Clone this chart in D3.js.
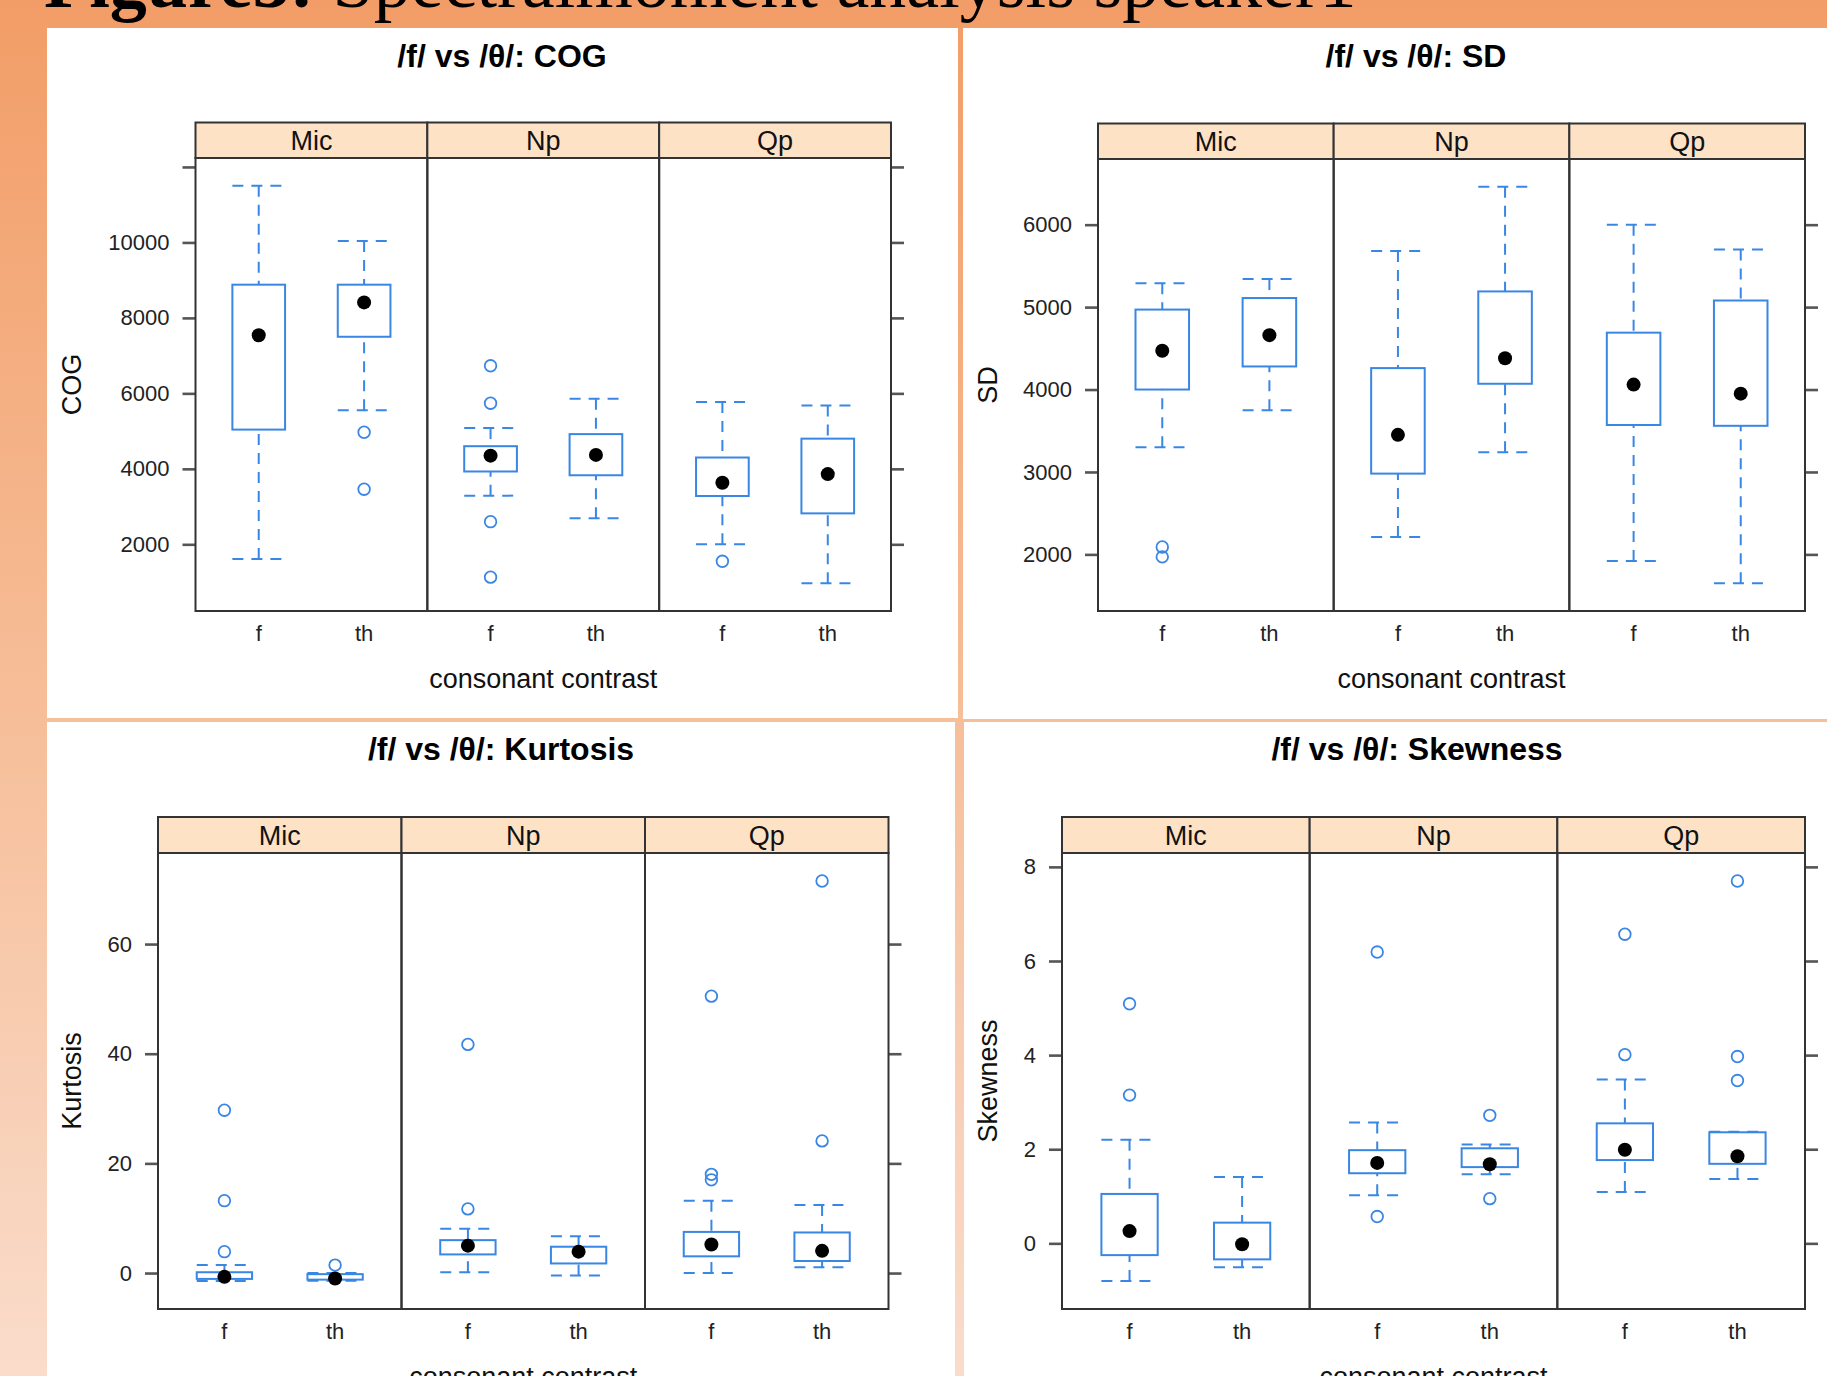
<!DOCTYPE html>
<html>
<head>
<meta charset="utf-8">
<script src="https://cdn.jsdelivr.net/npm/d3@7"></script>
<style>
  html, body { margin: 0; padding: 0; overflow: hidden; background: #fff; }
  svg { display: block; }
</style>
</head>
<body>
<svg id="slide" width="1827" height="1376"></svg>
<script>
// ---- categories ----
const devices = ["Mic", "Np", "Qp"];
const contrasts = ["f", "th"];

// ---- five-number summaries, one row per device × contrast
//      (Mic f, Mic th, Np f, Np th, Qp f, Qp th):
//      [lower whisker, Q1, median, Q3, upper whisker] ----
const cogStats = [
  [1610, 5040, 7540, 8880, 11500],
  [5550, 7500, 8410, 8880, 10040],
  [3290, 3930, 4350, 4600, 5080],
  [2690, 3830, 4370, 4920, 5860],
  [2000, 3280, 3630, 4300, 5770],
  [970, 2820, 3860, 4800, 5680]
];
const cogOutliers = [[], [4970, 3460], [6730, 5740, 2600, 1130], [], [1550], []];
const cogTicks = [2000, 4000, 6000, 8000, 10000, 12000];
const cogTickLabels = ["2000", "4000", "6000", "8000", "10000", ""];

const sdStats = [
  [3300, 4000, 4470, 4970, 5290],
  [3750, 4280, 4660, 5110, 5340],
  [2210, 2980, 3450, 4260, 5680],
  [3240, 4070, 4380, 5190, 6460],
  [1920, 3570, 4060, 4690, 6000],
  [1650, 3560, 3950, 5080, 5700]
];
const sdOutliers = [[2090, 1970], [], [], [], [], []];
const sdTicks = [2000, 3000, 4000, 5000, 6000];
const sdTickLabels = ["2000", "3000", "4000", "5000", "6000"];

const kurtStats = [
  [-1.45, -1.07, -0.69, 0.15, 1.45],
  [-1.40, -1.20, -1.00, -0.20, 0.00],
  [0.15, 3.40, 5.00, 6.00, 8.10],
  [-0.46, 1.75, 3.90, 4.80, 6.70],
  [0.00, 3.05, 5.20, 7.50, 13.20],
  [1.07, 2.20, 4.05, 7.40, 12.40]
];
const kurtOutliers = [[29.7, 13.2, 3.9], [1.45], [41.7, 11.7], [], [50.5, 18.0, 17.0], [71.5, 24.1]];
const kurtTicks = [0, 20, 40, 60];
const kurtTickLabels = ["0", "20", "40", "60"];

const skewStats = [
  [-0.80, -0.25, 0.26, 1.05, 2.20],
  [-0.51, -0.34, -0.02, 0.44, 1.41],
  [1.02, 1.49, 1.71, 1.98, 2.57],
  [1.47, 1.62, 1.68, 2.02, 2.10],
  [1.09, 1.77, 1.99, 2.55, 3.48],
  [1.37, 1.69, 1.85, 2.36, 2.37]
];
const skewOutliers = [[5.09, 3.15], [], [6.19, 0.57], [2.72, 0.95], [6.57, 4.01], [7.70, 3.97, 3.46]];
const skewTicks = [0, 2, 4, 6, 8];
const skewTickLabels = ["0", "2", "4", "6", "8"];

// ---- styling ----
const SANS = "'Liberation Sans', Arial, Helvetica, sans-serif";
const SERIF = "'Liberation Serif', 'Times New Roman', serif";
const BLUE = "#3a86e4";
const STRIP = "#fde2c6";
const FRAME = "#333333";
const TICK = "#555555";

const svg = d3.select("#slide");

// slide background: warm orange fading to peach
const defs = svg.append("defs");
const grad = defs.append("linearGradient")
  .attr("id", "slideBg").attr("x1", 0).attr("y1", 0).attr("x2", 0).attr("y2", 1);
grad.append("stop").attr("offset", "0%").attr("stop-color", "#f29d67");
grad.append("stop").attr("offset", "50%").attr("stop-color", "#f6bd97");
grad.append("stop").attr("offset", "100%").attr("stop-color", "#fadccb");
svg.append("rect").attr("width", 1827).attr("height", 1376).attr("fill", "url(#slideBg)");

// slide heading (runs off the top edge)
const heading = svg.append("text")
  .attr("x", 44).attr("y", 7)
  .attr("font-family", SERIF).attr("font-size", 72).attr("fill", "#000");
heading.append("tspan").attr("font-weight", "bold").text("Figure3:");
heading.append("tspan").text(" Spectralmoment analysis speaker1");
{
  const w = heading.node().getComputedTextLength();
  heading.attr("font-size", 72 * 1313 / w);
}

function drawChart(cfg) {
  const g = svg.append("g");
  const [cx0, cy0, cx1, cy1] = cfg.card;
  g.append("rect").attr("x", cx0).attr("y", cy0)
    .attr("width", cx1 - cx0).attr("height", cy1 - cy0).attr("fill", "#fff");

  const { left, right, stripTop, top, bottom } = cfg.panel;

  // y scale: data range widened by 7% each side
  const all = cfg.stats.flat().concat(cfg.outliers.flat());
  const lo = d3.min(all), hi = d3.max(all);
  const pad = (hi - lo) * 0.07;
  const y = d3.scaleLinear().domain([lo - pad, hi + pad]).range([bottom, top]);

  // device panels and contrast positions
  const px = d3.scaleBand().domain(devices).range([left, right]).paddingInner(0).paddingOuter(0);
  const bw = px.bandwidth();

  // title
  g.append("text")
    .attr("x", cfg.titleX).attr("y", cfg.titleY)
    .attr("text-anchor", "middle")
    .attr("font-family", SANS).attr("font-size", 32).attr("font-weight", "bold")
    .attr("fill", "#000")
    .text(cfg.title);

  // y axis label
  g.append("text")
    .attr("transform", `translate(${cfg.ylabX},${(top + bottom) / 2}) rotate(-90)`)
    .attr("text-anchor", "middle").attr("dy", "0.35em")
    .attr("font-family", SANS).attr("font-size", 27).attr("fill", "#111")
    .text(cfg.ylab);

  // x axis label
  g.append("text")
    .attr("x", (left + right) / 2).attr("y", bottom + 68).attr("dy", "0.35em")
    .attr("text-anchor", "middle")
    .attr("font-family", SANS).attr("font-size", 27).attr("fill", "#111")
    .text("consonant contrast");

  // left and right y axes (ticks outside the panel)
  const yAxisL = d3.axisLeft(y).tickValues(cfg.ticks).tickSize(13).tickPadding(13)
    .tickFormat((d, i) => cfg.tickLabels[i]);
  const yAxisR = d3.axisRight(y).tickValues(cfg.ticks).tickSize(13).tickFormat("");
  const axL = g.append("g").attr("transform", `translate(${left},0)`).call(yAxisL);
  const axR = g.append("g").attr("transform", `translate(${right},0)`).call(yAxisR);
  [axL, axR].forEach(ax => {
    ax.select(".domain").remove();
    ax.selectAll(".tick line").attr("stroke", TICK).attr("stroke-width", 2.6);
    ax.selectAll(".tick text").attr("font-family", SANS).attr("font-size", 22).attr("fill", "#222");
  });

  devices.forEach((dev, di) => {
    const x0 = px(dev);
    const xs = d3.scalePoint().domain(contrasts).range([x0, x0 + bw]).padding(0.6);
    const boxW = xs.step() * 0.5;

    // strip
    g.append("rect").attr("x", x0).attr("y", stripTop)
      .attr("width", bw).attr("height", top - stripTop)
      .attr("fill", STRIP).attr("stroke", FRAME).attr("stroke-width", 2);
    g.append("text")
      .attr("x", x0 + bw / 2).attr("y", (stripTop + top) / 2).attr("dy", "0.36em")
      .attr("text-anchor", "middle")
      .attr("font-family", SANS).attr("font-size", 27).attr("fill", "#111")
      .text(dev);

    // panel frame
    g.append("rect").attr("x", x0).attr("y", top)
      .attr("width", bw).attr("height", bottom - top)
      .attr("fill", "none").attr("stroke", FRAME).attr("stroke-width", 2);

    contrasts.forEach((c, ci) => {
      const k = di * contrasts.length + ci;
      const [wLo, q1, med, q3, wHi] = cfg.stats[k];
      const cx = xs(c);

      // x tick label
      g.append("text")
        .attr("x", cx).attr("y", bottom + 22).attr("dy", "0.36em")
        .attr("text-anchor", "middle")
        .attr("font-family", SANS).attr("font-size", 22).attr("fill", "#222")
        .text(c);

      const um = g.append("g").attr("stroke", BLUE).attr("stroke-width", 2)
        .attr("stroke-dasharray", "11,8").attr("fill", "none");
      // whiskers run from the caps toward the box
      um.append("line").attr("x1", cx).attr("x2", cx).attr("y1", y(wHi)).attr("y2", y(q3));
      um.append("line").attr("x1", cx).attr("x2", cx).attr("y1", y(wLo)).attr("y2", y(q1));
      um.append("line").attr("x1", cx - boxW / 2).attr("x2", cx + boxW / 2).attr("y1", y(wHi)).attr("y2", y(wHi));
      um.append("line").attr("x1", cx - boxW / 2).attr("x2", cx + boxW / 2).attr("y1", y(wLo)).attr("y2", y(wLo));

      // box
      g.append("rect")
        .attr("x", cx - boxW / 2).attr("y", y(q3))
        .attr("width", boxW).attr("height", Math.max(0.5, y(q1) - y(q3)))
        .attr("fill", "none").attr("stroke", BLUE).attr("stroke-width", 2);

      // outliers
      g.selectAll(null).data(cfg.outliers[k]).enter().append("circle")
        .attr("cx", cx).attr("cy", d => y(d)).attr("r", 5.8)
        .attr("fill", "none").attr("stroke", BLUE).attr("stroke-width", 1.8);

      // median dot
      g.append("circle").attr("cx", cx).attr("cy", y(med)).attr("r", 7).attr("fill", "#000");
    });
  });
}

drawChart({
  card: [47, 28, 958, 718],
  panel: { left: 195.5, right: 891, stripTop: 122.5, top: 158, bottom: 611 },
  title: "/f/ vs /θ/: COG", titleX: 502, titleY: 67,
  ylab: "COG", ylabX: 72,
  stats: cogStats, outliers: cogOutliers, ticks: cogTicks, tickLabels: cogTickLabels
});

drawChart({
  card: [963, 28, 1869, 719],
  panel: { left: 1098, right: 1805, stripTop: 123.5, top: 159, bottom: 611 },
  title: "/f/ vs /θ/: SD", titleX: 1416, titleY: 67,
  ylab: "SD", ylabX: 988,
  stats: sdStats, outliers: sdOutliers, ticks: sdTicks, tickLabels: sdTickLabels
});

drawChart({
  card: [47, 722, 955, 1420],
  panel: { left: 158, right: 888.5, stripTop: 817, top: 853, bottom: 1309 },
  title: "/f/ vs /θ/: Kurtosis", titleX: 501, titleY: 760,
  ylab: "Kurtosis", ylabX: 72,
  stats: kurtStats, outliers: kurtOutliers, ticks: kurtTicks, tickLabels: kurtTickLabels
});

drawChart({
  card: [964, 722, 1869, 1420],
  panel: { left: 1062, right: 1805, stripTop: 817, top: 853, bottom: 1309 },
  title: "/f/ vs /θ/: Skewness", titleX: 1417, titleY: 760,
  ylab: "Skewness", ylabX: 988,
  stats: skewStats, outliers: skewOutliers, ticks: skewTicks, tickLabels: skewTickLabels
});
</script>
</body>
</html>
